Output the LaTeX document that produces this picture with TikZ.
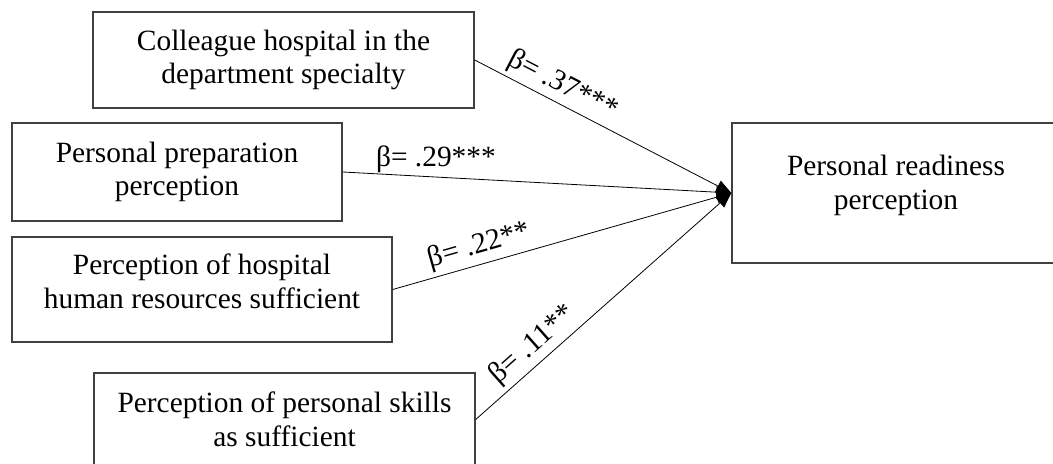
\documentclass[tikz,border=0pt]{standalone}
\usepackage{fontspec}
\setmainfont{Liberation Serif}
\usetikzlibrary{arrows.meta}

\begin{document}
\begin{tikzpicture}[x=0.5pt, y=-0.5pt,
        factor/.style={draw=black!75, line width=0.7pt, align=center, inner sep=0pt,
            font=\fontsize{14.7}{16.9}\selectfont},
        effect/.style={draw, line width=0.4pt, -{Triangle[length=7.5pt, width=6pt]}},
        beta/.style={font=\fontsize{14.7}{16.9}\selectfont, inner sep=2pt}]
    \useasboundingbox (0,0) rectangle (1053,464);
    % predictors
    \node[factor, minimum width=190.5pt, minimum height=48pt] (colleague) at (283.5,60)
        {Colleague hospital in the\\department specialty};
    \node[factor, minimum width=165pt, minimum height=49pt] (preparation) at (177,172)
        {Personal preparation\\perception};
    \node[factor, minimum width=190pt, minimum height=52.5pt, text depth=8pt] (resources) at (202,289.5)
        {Perception of hospital\\human resources sufficient};
    \node[factor, minimum width=190.5pt, minimum height=46.5pt] (skills) at (284.5,419.5)
        {Perception of personal skills\\as sufficient};
    % outcome
    \node[factor, minimum width=164pt, minimum height=70pt, text depth=11pt] (readiness) at (896,193)
        {Personal readiness\\perception};
    % paths
    \draw[effect] (colleague.east) -- node[beta, sloped, above, pos=.31] {β= .37***} (readiness.west);
    \draw[effect] (preparation.east) -- node[beta, above, pos=.24] {β= .29***} (readiness.west);
    \draw[effect] (resources.east) -- node[beta, sloped, above, pos=.27] {β= .22**} (readiness.west);
    \draw[effect] (skills.east) -- node[beta, sloped, above, pos=.27] {β= .11**} (readiness.west);
\end{tikzpicture}
\end{document}
